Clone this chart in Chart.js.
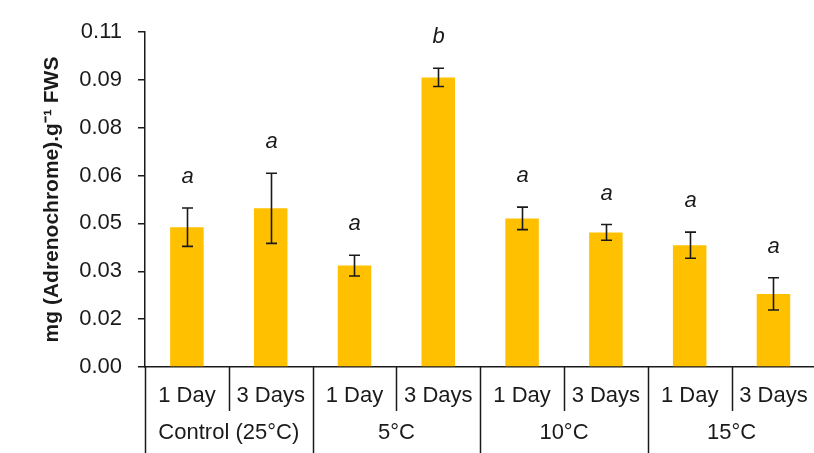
<!DOCTYPE html>
<html>
<head>
<meta charset="utf-8">
<script src="https://cdn.jsdelivr.net/npm/chart.js@4"></script>
<style>
  html, body { margin: 0; padding: 0; background: #fff; overflow: hidden; }
  #wrap { width: 824px; height: 453px; }
</style>
</head>
<body>
<div id="wrap"><canvas id="chart"></canvas></div>
<script>
const days = ["1 Day", "3 Days", "1 Day", "3 Days", "1 Day", "3 Days", "1 Day", "3 Days"];
const groups = ["Control (25°C)", "5°C", "10°C", "15°C"];
const means = [0.0459, 0.0521, 0.0333, 0.0951, 0.0488, 0.0442, 0.0400, 0.0240];
const errors = [0.0063, 0.0115, 0.0034, 0.0030, 0.0037, 0.0026, 0.0043, 0.0053];
const letters = ["a", "a", "a", "b", "a", "a", "a", "a"];
const yMax = 0.11;

const FONT = "'Liberation Sans', Arial, sans-serif";
const INK = "#1a1a1a";

// error bars + significance letters over each bar
const errorBars = {
  id: "errorBars",
  afterDatasetsDraw(chart) {
    const { ctx, scales: { x, y } } = chart;
    ctx.save();
    ctx.strokeStyle = INK;
    ctx.lineWidth = 1.6;
    ctx.fillStyle = INK;
    ctx.font = "italic 22px " + FONT;
    ctx.textAlign = "center";
    ctx.textBaseline = "middle";
    means.forEach((m, i) => {
      const px = Math.round(x.getPixelForValue(i)) + 0.5;
      const top = y.getPixelForValue(m + errors[i]);
      const bot = y.getPixelForValue(m - errors[i]);
      ctx.beginPath();
      ctx.moveTo(px, top); ctx.lineTo(px, bot);
      ctx.moveTo(px - 5.5, top); ctx.lineTo(px + 5.5, top);
      ctx.moveTo(px - 5.5, bot); ctx.lineTo(px + 5.5, bot);
      ctx.stroke();
      ctx.fillText(letters[i], px, top - 31);
    });
    ctx.restore();
  }
};

// vertical separators of the two-level category axis
const separators = {
  id: "separators",
  afterDraw(chart) {
    const { ctx, chartArea, scales: { x } } = chart;
    const half = (x.getPixelForValue(1) - x.getPixelForValue(0)) / 2;
    ctx.save();
    ctx.strokeStyle = INK;
    ctx.lineWidth = 1.5;
    for (let i = 0; i <= days.length; i++) {
      const px = Math.round(x.getPixelForValue(i) - half) + 0.5;
      const end = i % 2 === 0 ? chart.height : chartArea.bottom + 44;
      ctx.beginPath();
      ctx.moveTo(px, chartArea.bottom);
      ctx.lineTo(px, end);
      ctx.stroke();
    }
    ctx.restore();
  }
};

new Chart(document.getElementById("chart"), {
  type: "bar",
  data: {
    labels: days,
    datasets: [{
      data: means,
      backgroundColor: "#FFC000",
      categoryPercentage: 1,
      barPercentage: 0.4
    }]
  },
  options: {
    responsive: true,
    maintainAspectRatio: false,
    animation: false,
    layout: { padding: { top: 32, right: 5, bottom: 0, left: 0 } },
    plugins: { legend: { display: false }, tooltip: { enabled: false } },
    scales: {
      x: {
        type: "category",
        offset: true,
        grid: { display: false, drawTicks: false },
        border: { display: true, color: INK, width: 1.5 },
        ticks: { color: INK, font: { family: FONT, size: 22 }, padding: 16, maxRotation: 0, autoSkip: false },
        afterFit: (s) => { s.height = 44; }
      },
      x2: {
        type: "category",
        labels: groups,
        position: "bottom",
        offset: true,
        grid: { display: false, drawTicks: false },
        border: { display: false },
        ticks: { color: INK, font: { family: FONT, size: 22 }, padding: 9, maxRotation: 0, autoSkip: false },
        afterFit: (s) => { s.height = 42; }
      },
      y: {
        min: 0,
        max: yMax,
        grid: { drawOnChartArea: false, color: INK, lineWidth: 1.5, tickLength: 7 },
        border: { display: true, color: INK, width: 1.5 },
        ticks: {
          count: 8,
          color: INK,
          padding: 16,
          font: { family: FONT, size: 22 },
          callback: (v) => v.toFixed(2)
        },
        title: {
          display: true,
          text: "mg (Adrenochrome).g⁻¹ FWS",
          color: INK,
          font: { family: FONT, size: 21, weight: "bold" },
          padding: { top: 40, bottom: 0 }
        },
        afterFit: (s) => { s.width = 145; }
      }
    }
  },
  plugins: [errorBars, separators]
});
</script>
</body>
</html>
